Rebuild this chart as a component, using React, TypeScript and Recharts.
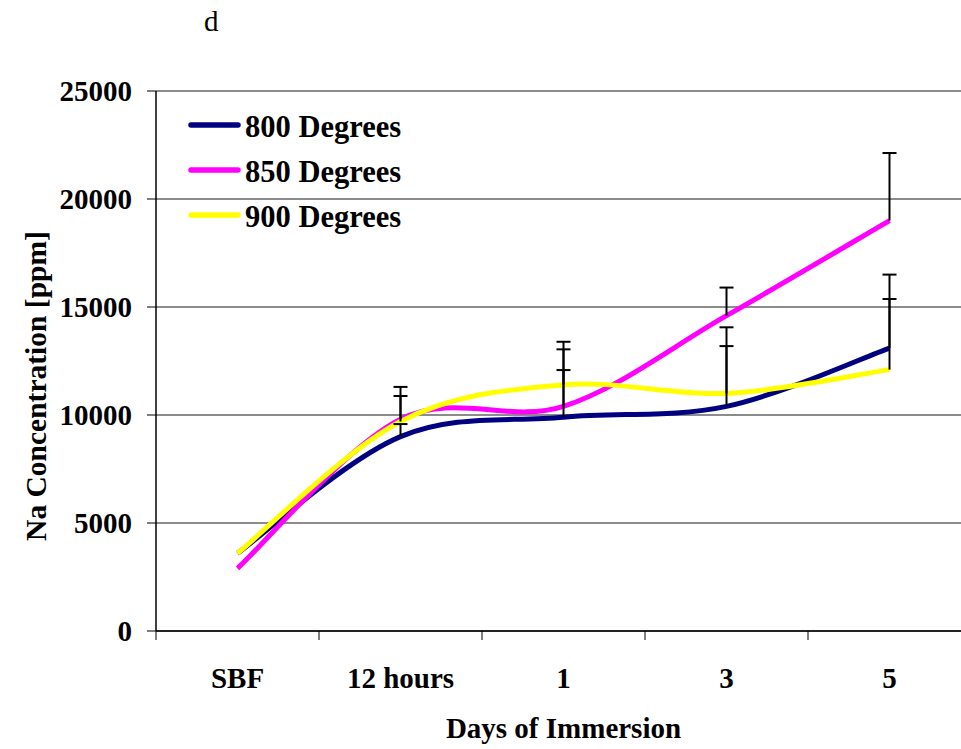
import React from 'react';
import {
  ComposedChart,
  Line,
  XAxis,
  YAxis,
  CartesianGrid,
  Legend,
  ErrorBar,
} from 'recharts';

const categories = ['SBF', '12 hours', '1', '3', '5'];
const na800 = [3600, 9000, 9900, 10400, 13100];
const na850 = [2900, 9800, 10400, 14600, 19000];
const na900 = [3600, 9700, 11400, 11000, 12100];
// upper error only (no error shown on SBF)
const err800 = [null, 580, 2180, 2790, 3400];
const err850 = [null, 1500, 2640, 1300, 3130];
const err900 = [null, 1180, 1990, 3060, 3270];
const yTicks = [0, 5000, 10000, 15000, 20000, 25000];

const data = categories.map((c, i) => ({
  day: c,
  s800: na800[i],
  s850: na850[i],
  s900: na900[i],
  e800: err800[i],
  e850: err850[i],
  e900: err900[i],
}));

const FONT = "'Liberation Serif', 'Times New Roman', serif";
const LABEL_GAP = 36;

// Excel-like smoothed line (Catmull-Rom through the points)
const smoothCurve = (context: any) => {
  let pts: number[][] = [];
  return {
    areaStart() {},
    areaEnd() {},
    lineStart() {
      pts = [];
    },
    point(x: number, y: number) {
      pts.push([+x, +y]);
    },
    lineEnd() {
      if (!pts.length) return;
      context.moveTo(pts[0][0], pts[0][1]);
      for (let i = 0; i < pts.length - 1; i++) {
        const p0 = pts[i - 1] || pts[i];
        const p1 = pts[i];
        const p2 = pts[i + 1];
        const p3 = pts[i + 2] || p2;
        context.bezierCurveTo(
          p1[0] + (p2[0] - p0[0]) / 6,
          p1[1] + (p2[1] - p0[1]) / 6,
          p2[0] - (p3[0] - p1[0]) / 6,
          p2[1] - (p3[1] - p1[1]) / 6,
          p2[0],
          p2[1]
        );
      }
    },
  };
};

const upOnly = (key: string) => (d: any) => (d[key] == null ? undefined : [0, d[key]]);

const tickStyle = { fontFamily: FONT, fontSize: 29, fontWeight: 700, fill: '#000' };

// category label in the middle, tick marks between categories (Excel style)
const CatTick = (props: any) => {
  const { x, y, payload, index, visibleTicksCount, width } = props;
  const half = payload && payload.offset ? payload.offset : width / visibleTicksCount / 2;
  const axisY = y - LABEL_GAP;
  return (
    <g>
      <line x1={x - half} y1={axisY} x2={x - half} y2={axisY + 9} stroke="#000" strokeWidth={1} />
      {index === visibleTicksCount - 1 && (
        <line x1={x + half} y1={axisY} x2={x + half} y2={axisY + 9} stroke="#000" strokeWidth={1} />
      )}
      <text x={x} y={y} dy="0.71em" textAnchor="middle" style={tickStyle}>
        {payload.value}
      </text>
    </g>
  );
};

const renderLegend = (props: any) => (
  <div>
    {(props.payload || [])
      .filter((p: any) => p.type !== 'none')
      .map((p: any) => (
        <div key={p.value} style={{ display: 'flex', alignItems: 'center', height: 45 }}>
          <svg width={54} height={10}>
            <line x1={3} y1={5} x2={50} y2={5} stroke={p.color} strokeWidth={5.5} strokeLinecap="round" />
          </svg>
          <span
            style={{
              marginLeft: 3,
              fontFamily: FONT,
              fontSize: 30.5,
              fontWeight: 700,
              color: '#000',
              lineHeight: '30px',
              position: 'relative',
              top: 2,
            }}
          >
            {p.value}
          </span>
        </div>
      ))}
  </div>
);

const YTitle = (props: any) => {
  const vb = props.viewBox || {};
  const cx = vb.x + 36;
  const cy = vb.y + vb.height / 2 + 25;
  return (
    <text
      x={cx}
      y={cy}
      transform={`rotate(-90 ${cx} ${cy})`}
      textAnchor="middle"
      dominantBaseline="central"
      style={{ fontFamily: FONT, fontSize: 29.5, fontWeight: 700, fill: '#000' }}
    >
      Na Concentration [ppm]
    </text>
  );
};

export default function App() {
  return (
    <div
      style={{
        position: 'absolute',
        left: 0,
        top: 0,
        width: 961,
        height: 749,
        overflow: 'hidden',
        background: '#fff',
      }}
    >
      <style>{'.recharts-errorBar line:nth-of-type(3){display:none}'}</style>
      <div
        style={{
          position: 'absolute',
          left: 204,
          top: 7,
          fontFamily: FONT,
          fontSize: 29,
          lineHeight: '29px',
          color: '#000',
        }}
      >
        d
      </div>
      <ComposedChart
        width={980}
        height={749}
        data={data}
        margin={{ top: 91, right: 9, bottom: 0, left: 0 }}
      >
        <CartesianGrid vertical={false} stroke="#666" strokeWidth={1.3} />
        <XAxis
          dataKey="day"
          scale="band"
          height={118}
          axisLine={{ stroke: '#000', strokeWidth: 1.5 }}
          tickLine={false}
          tickSize={0}
          tickMargin={LABEL_GAP}
          tick={<CatTick />}
          interval={0}
          label={{
            value: 'Days of Immersion',
            position: 'insideBottom',
            offset: 11,
            style: { fontFamily: FONT, fontSize: 29, fontWeight: 700, fill: '#000' },
          }}
        />
        <YAxis
          domain={[0, 25000]}
          ticks={yTicks}
          width={156}
          tickSize={9}
          tickMargin={15}
          tick={tickStyle}
          axisLine={{ stroke: '#000', strokeWidth: 1.5 }}
          tickLine={{ stroke: '#000', strokeWidth: 1 }}
          label={<YTitle />}
        />
        <Legend
          layout="vertical"
          align="center"
          verticalAlign="middle"
          content={renderLegend}
          wrapperStyle={{ left: 188, top: 102, right: 'auto', bottom: 'auto', width: 260 }}
        />
        <Line
          name="800 Degrees"
          dataKey="s800"
          type={smoothCurve as any}
          stroke="#000080"
          strokeWidth={5}
          dot={false}
          activeDot={false}
          isAnimationActive={false}
        />
        <Line
          name="850 Degrees"
          dataKey="s850"
          type={smoothCurve as any}
          stroke="#FF00FF"
          strokeWidth={5}
          dot={false}
          activeDot={false}
          isAnimationActive={false}
        />
        <Line
          name="900 Degrees"
          dataKey="s900"
          type={smoothCurve as any}
          stroke="#FFFF00"
          strokeWidth={5}
          dot={false}
          activeDot={false}
          isAnimationActive={false}
        />
        {/* error bars drawn after the lines so they sit on top */}
        {[
          ['s800', 'e800'],
          ['s850', 'e850'],
          ['s900', 'e900'],
        ].map(([v, e]) => (
          <Line
            key={e}
            dataKey={v}
            stroke="none"
            dot={false}
            activeDot={false}
            legendType="none"
            isAnimationActive={false}
          >
            <ErrorBar dataKey={upOnly(e)} direction="y" width={7} stroke="#000" strokeWidth={2} />
          </Line>
        ))}
      </ComposedChart>
    </div>
  );
}
